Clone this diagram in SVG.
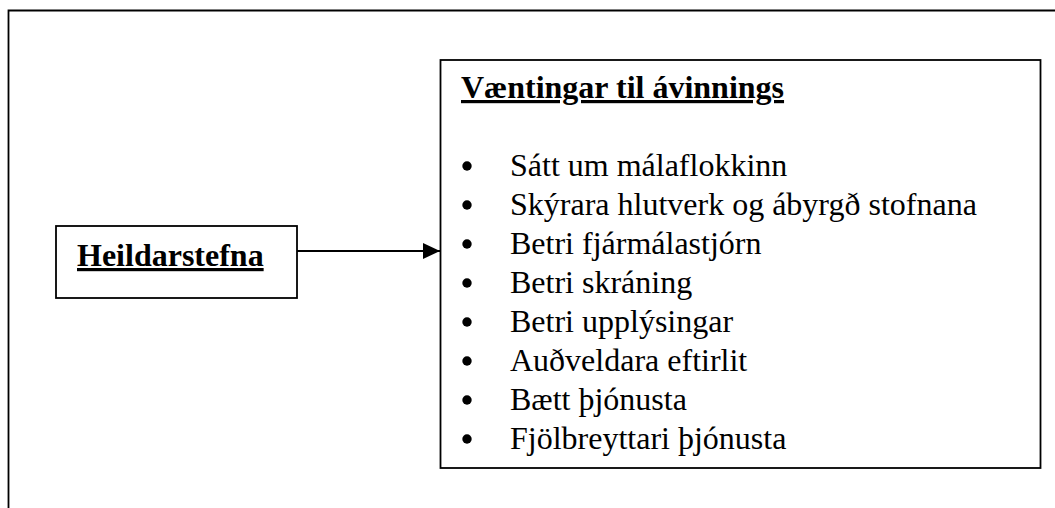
<svg xmlns="http://www.w3.org/2000/svg" width="1055" height="508" viewBox="0 0 1055 508">
<style>
.frame{fill:none;stroke:#000;stroke-width:1.8}
.box{fill:#fff;stroke:#000;stroke-width:1.8}
.t{font-family:"Liberation Serif","Times New Roman",serif;font-size:32px;fill:#000}
.b{font-weight:bold;text-decoration:underline}
.conn{stroke:#000;stroke-width:2;fill:none}
</style>
<defs>
<marker id="ah" markerWidth="18" markerHeight="16" refX="17" refY="8" orient="auto" markerUnits="userSpaceOnUse">
<path d="M0,0 L17,8 L0,16 Z" fill="#000"/>
</marker>
</defs>
<rect width="1055" height="508" fill="#fff"/>
<path class="frame" d="M8.5,508 V10.5 H1055"/>
<g id="heildarstefna">
<rect class="box" x="56" y="226" width="241" height="72"/>
<text class="t b" x="77" y="266">Heildarstefna</text>
</g>
<g id="vaentingar">
<rect class="box" x="440.5" y="60" width="600" height="408"/>
<text class="t b" x="461" y="98">Væntingar til ávinnings</text>
<g fill="#000">
<circle cx="467" cy="166" r="4.7"/>
<circle cx="467" cy="205" r="4.7"/>
<circle cx="467" cy="244" r="4.7"/>
<circle cx="467" cy="283" r="4.7"/>
<circle cx="467" cy="322" r="4.7"/>
<circle cx="467" cy="361" r="4.7"/>
<circle cx="467" cy="400" r="4.7"/>
<circle cx="467" cy="439" r="4.7"/>
</g>
<text class="t" x="510" y="176">Sátt um málaflokkinn</text>
<text class="t" x="510" y="215">Skýrara hlutverk og ábyrgð stofnana</text>
<text class="t" x="510" y="254">Betri fjármálastjórn</text>
<text class="t" x="510" y="293">Betri skráning</text>
<text class="t" x="510" y="332">Betri upplýsingar</text>
<text class="t" x="510" y="371">Auðveldara eftirlit</text>
<text class="t" x="510" y="410">Bætt þjónusta</text>
<text class="t" x="510" y="449">Fjölbreyttari þjónusta</text>
</g>
<g id="connectors">
<line class="conn" x1="297" y1="251" x2="440" y2="251" marker-end="url(#ah)"/>
</g>
</svg>
